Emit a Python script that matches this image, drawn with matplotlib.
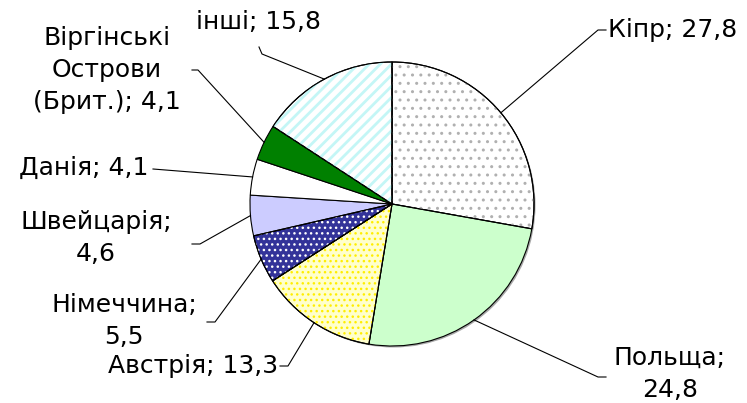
#! /usr/bin/env python3
# -*- coding: utf-8 -*-
"""pie chart of shares by country (with leader lines)"""

import matplotlib
matplotlib.use("Agg")
import matplotlib.pyplot as plt
from matplotlib.patches import Wedge, Circle
import numpy as np

# -----------------------------------------------------------------------------

# data, clockwise from 12 o'clock
countries = ["Кіпр", "Польща", "Австрія", "Німеччина", "Швейцарія",
             "Данія", "Віргінські\nОстрови\n(Брит.)", "інші"]
shares    = [27.8, 24.8, 13.3, 5.5, 4.6, 4.1, 4.1, 15.8]

# label text: "name; value" with a decimal comma
label_sep = ["; ", ";\n", "; ", ";\n", ";\n", "; ", "; ", "; "]

# -----------------------------------------------------------------------------

# slice styles: face colour, hatch, hatch colour
faces   = ["white", "#ccffcc", "#ffffcc", "#333399", "#ccccff",
           "white", "#008000", "white"]
hatches = ["..", None, "...", "...", None, None, None, "///"]
hcolors = ["#b0b0b0", None, "#ffee00", "white", None, None, None, "#c4f6f6"]
hwidths = [1.0, None, 1.0, 1.0, None, None, None, 2.0]

# label placement in pixels (y measured upwards): x, y, ha,
# followed by the elbow and the end of each leader line
label_pos = [
    (608, 373, "left",   (598, 373), (606, 373)),
    (670,  29, "center", (598,  26), (606,  26)),
    (278,  37, "right",  (288,  37), (280,  37)),
    (124,  82, "center", (215,  81), (207,  81)),
    ( 96, 165, "center", (200, 159), (192, 159)),
    (148, 235, "right",  (153, 234), (153, 234)),
    (107, 333, "center", (198, 333), (192, 333)),
    (258, 381, "center", (262, 349), (259, 356)),
]

CX, CY, R = 392, 199, 142

# -----------------------------------------------------------------------------

fig = plt.figure(figsize=(7.47, 4.03), dpi=100)
ax = fig.add_axes([0, 0, 1, 1])

# faint shadow behind the pie
ax.add_patch(Circle((CX + 1.5, CY - 1.5), R, facecolor="#a8a8a8",
                    edgecolor="none", zorder=0))

wedges, _ = ax.pie(shares, startangle=90, counterclock=False,
                   center=(CX, CY), radius=R, colors=faces,
                   wedgeprops=dict(edgecolor="black", linewidth=0.8))

# overlay hatching on a copy of each wedge
for w, h, hc, hw in zip(wedges, hatches, hcolors, hwidths):
    if h is None:
        continue
    hp = Wedge(w.center, w.r, w.theta1, w.theta2, facecolor="none",
               edgecolor=hc, linewidth=0, hatch=h, zorder=w.get_zorder())
    if hasattr(hp, "set_hatch_linewidth"):
        hp.set_hatch_linewidth(hw)
    ax.add_patch(hp)
    # redraw outline on top
    ax.add_patch(Wedge(w.center, w.r, w.theta1, w.theta2, facecolor="none",
                       edgecolor="black", linewidth=0.8,
                       zorder=w.get_zorder() + 0.1))

# labels and leader lines
for w, name, val, sep, pos in zip(wedges, countries, shares, label_sep,
                                  label_pos):
    x, y, ha, elbow, end = pos
    mid = np.deg2rad((w.theta1 + w.theta2) / 2.0)
    ex = w.center[0] + w.r * np.cos(mid)
    ey = w.center[1] + w.r * np.sin(mid)
    ax.plot([ex, elbow[0], end[0]], [ey, elbow[1], end[1]],
            color="black", linewidth=0.8, zorder=5)
    txt = name + sep + ("%.1f" % val).replace(".", ",")
    ax.text(x, y, txt, ha=ha, va="center", multialignment="center",
            fontsize=18, family="DejaVu Sans", linespacing=1.4)

ax.set_xlim(0, 747)
ax.set_ylim(0, 403)
ax.set_aspect("equal")
ax.axis("off")

fig.savefig("out.png", dpi=100)
